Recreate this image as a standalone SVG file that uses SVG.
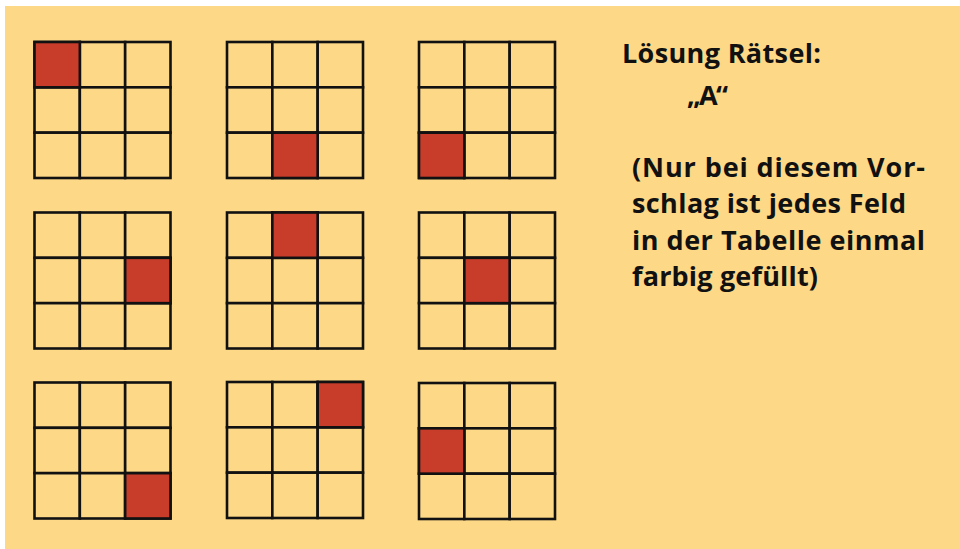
<svg xmlns="http://www.w3.org/2000/svg" width="960" height="549" viewBox="0 0 960 549">
<defs>
<style>
.bg{fill:#FDD886}
.cell{fill:#FDD886;stroke:#111;stroke-width:2.6}
.hit{fill:#C83C2A;stroke:#111;stroke-width:2.6}
.t{font-family:"Open Sans","DejaVu Sans",sans-serif;font-weight:bold;font-size:27px;fill:#111}
</style>
<g id="grid">
<rect class="cell" x="0" y="0" width="45.33" height="45.33"/>
<rect class="cell" x="45.33" y="0" width="45.33" height="45.33"/>
<rect class="cell" x="90.67" y="0" width="45.33" height="45.33"/>
<rect class="cell" x="0" y="45.33" width="45.33" height="45.33"/>
<rect class="cell" x="45.33" y="45.33" width="45.33" height="45.33"/>
<rect class="cell" x="90.67" y="45.33" width="45.33" height="45.33"/>
<rect class="cell" x="0" y="90.67" width="45.33" height="45.33"/>
<rect class="cell" x="45.33" y="90.67" width="45.33" height="45.33"/>
<rect class="cell" x="90.67" y="90.67" width="45.33" height="45.33"/>
</g>
</defs>
<rect class="bg" x="5" y="6" width="955" height="543"/>
<g id="g1" transform="translate(34.5,42)"><use href="#grid"/><rect class="hit" x="0" y="0" width="45.33" height="45.33"/></g>
<g id="g2" transform="translate(227,42)"><use href="#grid"/><rect class="hit" x="45.33" y="90.67" width="45.33" height="45.33"/></g>
<g id="g3" transform="translate(419,42)"><use href="#grid"/><rect class="hit" x="0" y="90.67" width="45.33" height="45.33"/></g>
<g id="g4" transform="translate(34.5,212.5)"><use href="#grid"/><rect class="hit" x="90.67" y="45.33" width="45.33" height="45.33"/></g>
<g id="g5" transform="translate(227,212.5)"><use href="#grid"/><rect class="hit" x="45.33" y="0" width="45.33" height="45.33"/></g>
<g id="g6" transform="translate(419,212.5)"><use href="#grid"/><rect class="hit" x="45.33" y="45.33" width="45.33" height="45.33"/></g>
<g id="g7" transform="translate(34.5,382.5)"><use href="#grid"/><rect class="hit" x="90.67" y="90.67" width="45.33" height="45.33"/></g>
<g id="g8" transform="translate(227,382)"><use href="#grid"/><rect class="hit" x="90.67" y="0" width="45.33" height="45.33"/></g>
<g id="g9" transform="translate(419,383)"><use href="#grid"/><rect class="hit" x="0" y="45.33" width="45.33" height="45.33"/></g>
<g id="text">
<text class="t" x="622" y="63" textLength="199">Lösung Rätsel:</text>
<text class="t" x="687" y="105" textLength="41">„A“</text>
<text class="t" x="632" y="177" textLength="293">(Nur bei diesem Vor-</text>
<text class="t" x="632" y="213" textLength="274">schlag ist jedes Feld</text>
<text class="t" x="632" y="250" textLength="293">in der Tabelle einmal</text>
<text class="t" x="632" y="286" textLength="186">farbig gefüllt)</text>
</g>
</svg>
